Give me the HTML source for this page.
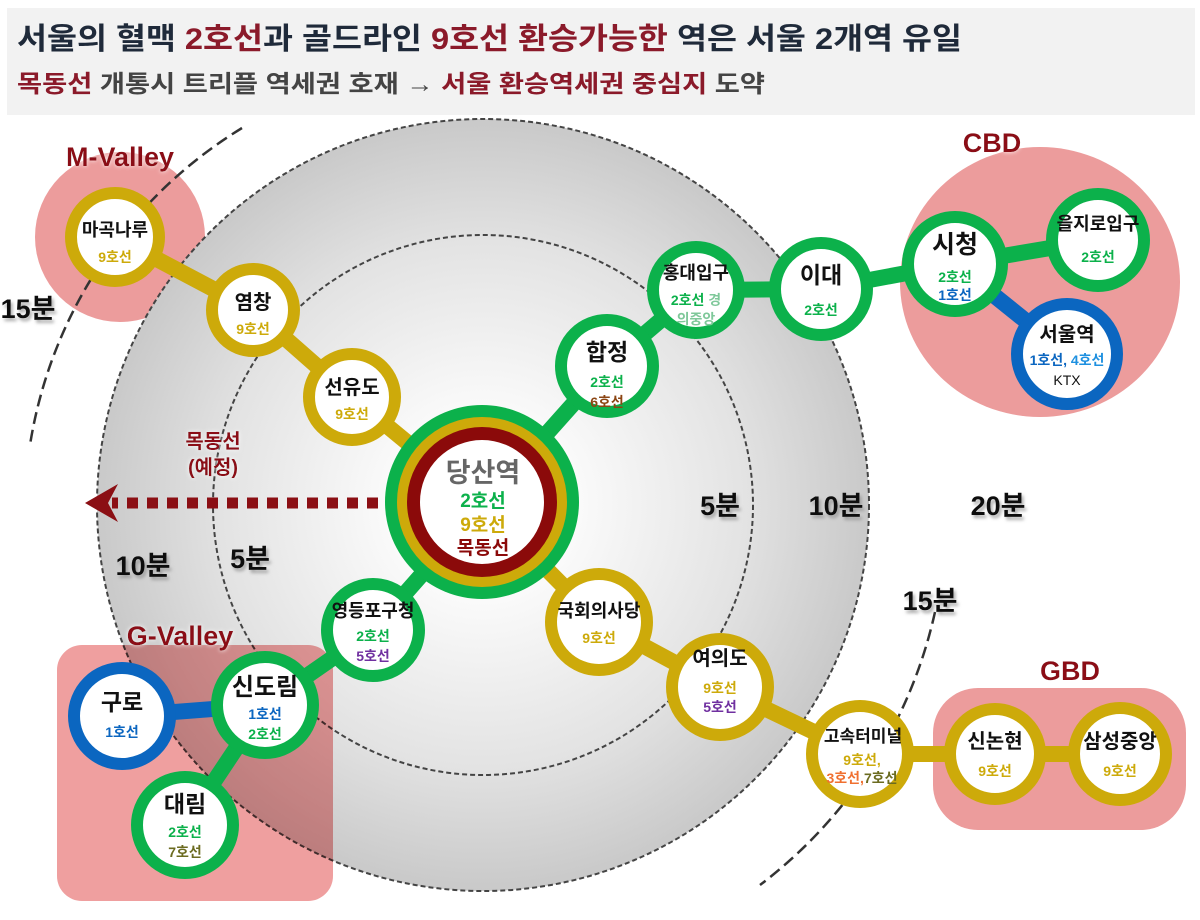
<!DOCTYPE html>
<html><head><meta charset="utf-8"><style>
html,body{margin:0;padding:0;background:#fff;}
svg{display:block;font-family:"Liberation Sans","Noto Sans CJK KR",sans-serif;}
.n{font-weight:bold;font-size:20px;fill:#111;text-anchor:middle;}
.l{font-size:14px;text-anchor:middle;font-weight:bold;}
.m{font-weight:bold;font-size:27px;fill:#111;text-anchor:middle;}
</style></head><body>
<svg width="1200" height="920" viewBox="0 0 1200 920" xmlns="http://www.w3.org/2000/svg">
<defs>
<radialGradient id="g1" cx="0.5" cy="0.5" r="0.5"><stop offset="0.65" stop-color="#e4e4e4"/><stop offset="1" stop-color="#c9c9c9"/></radialGradient>
<radialGradient id="g2" cx="0.5" cy="0.5" r="0.5"><stop offset="0.3" stop-color="#fcfcfc"/><stop offset="1" stop-color="#e2e2e2"/></radialGradient>
<filter id="sh"><feDropShadow dx="2" dy="3" stdDeviation="1.5" flood-color="#888" flood-opacity="0.7"/></filter>
<filter id="gl"><feDropShadow dx="0" dy="0" stdDeviation="2" flood-color="#fff" flood-opacity="1"/></filter>
</defs>
<rect x="7" y="8" width="1188" height="107" fill="#f2f2f2"/>
<text x="17" y="49" font-size="30" font-weight="bold" fill="#1f2a3a" textLength="945" lengthAdjust="spacingAndGlyphs">서울의 혈맥 <tspan fill="#8b1a2a">2호선</tspan>과 골드라인 <tspan fill="#8b1a2a">9호선 환승가능한</tspan> 역은 서울 2개역 유일</text>
<text x="17" y="92" font-size="24" font-weight="bold" fill="#444" textLength="748" lengthAdjust="spacingAndGlyphs"><tspan fill="#8b1a2a">목동선</tspan> 개통시 트리플 역세권 호재 → <tspan fill="#8b1a2a">서울 환승역세권 중심지</tspan> 도약</text>

<circle cx="120" cy="237" r="85" fill="#ec9c9c"/>
<ellipse cx="1040" cy="282" rx="140" ry="135" fill="#ec9c9c"/>
<rect x="933" y="688" width="253" height="142" rx="45" fill="#ec9c9c"/>

<circle cx="483" cy="505" r="386" fill="url(#g1)" stroke="#444" stroke-width="2" stroke-dasharray="5,3"/>
<circle cx="483" cy="505" r="270" fill="url(#g2)" stroke="#444" stroke-width="2" stroke-dasharray="5,3"/>
<rect x="57" y="645" width="276" height="256" rx="25" fill="#ef9f9f" style="mix-blend-mode:multiply"/>

<path d="M 242 128 A 455 455 0 0 0 30 445" fill="none" stroke="#333" stroke-width="2.5" stroke-dasharray="12,6"/>
<path d="M 935 612 A 470 470 0 0 1 760 885" fill="none" stroke="#333" stroke-width="2.5" stroke-dasharray="12,6"/>

<g stroke-width="16" fill="none">
<polyline points="115,237 253,310 352,397 483,505" stroke="#cdaa0a"/>
<polyline points="483,505 607,366 696,290 821,289 955,264 1098,240" stroke="#0cb14b"/>
<line x1="955" y1="264" x2="1067" y2="354" stroke="#0b66c0"/>
<polyline points="483,505 599,622 720,687 860,754 995,754 1120,754" stroke="#cdaa0a"/>
<polyline points="483,505 373,630 265,705 185,825" stroke="#0cb14b"/>
<line x1="122" y1="716" x2="265" y2="705" stroke="#0b66c0"/>
</g>

<line x1="378" y1="503" x2="112" y2="503" stroke="#8b0f14" stroke-width="11" stroke-dasharray="11,9"/>
<polygon points="85,503 118,484 108,503 118,522" fill="#8b0f14"/>
<text x="213" y="448" font-size="20" font-weight="bold" fill="#8b0f14" text-anchor="middle" filter="url(#gl)">목동선</text>
<text x="213" y="474" font-size="20" font-weight="bold" fill="#8b0f14" text-anchor="middle" filter="url(#gl)">(예정)</text>

<g font-size="27" font-weight="bold" fill="#8b0f14" text-anchor="middle" filter="url(#gl)">
<text x="120" y="166">M-Valley</text>
<text x="992" y="152">CBD</text>
<text x="180" y="645">G-Valley</text>
<text x="1070" y="680">GBD</text>
</g>

<g class="m" filter="url(#sh)">
<text class="m" x="28" y="318">15분</text>
<text class="m" x="143" y="575">10분</text>
<text class="m" x="250" y="568">5분</text>
<text class="m" x="720" y="515">5분</text>
<text class="m" x="836" y="515">10분</text>
<text class="m" x="998" y="515">20분</text>
<text class="m" x="930" y="610">15분</text>
</g>

<g stroke-width="12" fill="#fff">
<circle cx="115" cy="237" r="44" stroke="#cdaa0a"/>
<circle cx="253" cy="310" r="41" stroke="#cdaa0a"/>
<circle cx="352" cy="397" r="43" stroke="#cdaa0a"/>
<circle cx="607" cy="366" r="46" stroke="#0cb14b"/>
<circle cx="696" cy="290" r="43" stroke="#0cb14b"/>
<circle cx="821" cy="289" r="46" stroke="#0cb14b"/>
<circle cx="955" cy="264" r="47" stroke="#0cb14b"/>
<circle cx="1098" cy="240" r="46" stroke="#0cb14b"/>
<circle cx="1067" cy="354" r="50" stroke="#0b66c0"/>
<circle cx="373" cy="630" r="46" stroke="#0cb14b"/>
<circle cx="599" cy="622" r="48" stroke="#cdaa0a"/>
<circle cx="720" cy="687" r="48" stroke="#cdaa0a"/>
<circle cx="860" cy="754" r="48" stroke="#cdaa0a"/>
<circle cx="995" cy="754" r="45" stroke="#cdaa0a"/>
<circle cx="1120" cy="754" r="46" stroke="#cdaa0a"/>
<circle cx="265" cy="705" r="48" stroke="#0cb14b"/>
<circle cx="122" cy="716" r="48" stroke="#0b66c0"/>
<circle cx="185" cy="825" r="48" stroke="#0cb14b"/>
</g>
<circle cx="482" cy="502" r="97" fill="#0cb14b"/>
<circle cx="482" cy="502" r="85" fill="#cdaa0a"/>
<circle cx="482" cy="502" r="75" fill="#8b0a0a"/>
<circle cx="482" cy="502" r="62" fill="#fff"/>
<text x="483" y="482" font-size="27" font-weight="bold" fill="#666" text-anchor="middle" filter="url(#gl)">당산역</text>
<text class="l" x="483" y="507" style="font-size:19px" fill="#0cb14b">2호선</text>
<text class="l" x="483" y="531" style="font-size:19px" fill="#cdaa0a">9호선</text>
<text class="l" x="483" y="554" style="font-size:19px" fill="#8b0a0a">목동선</text>

<text class="n" x="115" y="236" style="font-size:18px">마곡나루</text><text class="l" x="115" y="262" fill="#cdaa0a">9호선</text>
<text class="n" x="253" y="309">염창</text><text class="l" x="253" y="334" fill="#cdaa0a">9호선</text>
<text class="n" x="352" y="394">선유도</text><text class="l" x="352" y="419" fill="#cdaa0a">9호선</text>
<text class="n" x="607" y="360" style="font-size:23px">합정</text><text class="l" x="607" y="387" fill="#0cb14b">2호선</text><text class="l" x="607" y="407" fill="#8b4513">6호선</text>
<text class="n" x="696" y="279" style="font-size:18px">홍대입구</text><text class="l" x="696" y="305"><tspan fill="#0cb14b">2호선</tspan> <tspan fill="#7fc89a">경</tspan></text><text class="l" x="696" y="324" fill="#7fc89a">의중앙</text>
<text class="n" x="821" y="283" style="font-size:23px">이대</text><text class="l" x="821" y="315" fill="#0cb14b">2호선</text>
<text class="n" x="955" y="253" style="font-size:25px">시청</text><text class="l" x="955" y="282" fill="#0cb14b">2호선</text><text class="l" x="955" y="300" fill="#0b66c0">1호선</text>
<text class="n" x="1098" y="230" style="font-size:18px">을지로입구</text><text class="l" x="1098" y="262" fill="#0cb14b">2호선</text>
<text class="n" x="1067" y="341">서울역</text><text class="l" x="1067" y="365"><tspan fill="#0b66c0">1호선, </tspan><tspan fill="#1e90e0">4호선</tspan></text><text class="l" x="1067" y="385" fill="#111" style="font-weight:normal">KTX</text>
<text class="n" x="373" y="617" style="font-size:18px">영등포구청</text><text class="l" x="373" y="641" fill="#0cb14b">2호선</text><text class="l" x="373" y="661" fill="#7030a0">5호선</text>
<text class="n" x="599" y="617" style="font-size:18px">국회의사당</text><text class="l" x="599" y="643" fill="#cdaa0a">9호선</text>
<text class="n" x="720" y="665">여의도</text><text class="l" x="720" y="693" fill="#cdaa0a">9호선</text><text class="l" x="720" y="712" fill="#7030a0">5호선</text>
<text class="n" x="863" y="742" style="font-size:17px">고속터미널</text><text class="l" x="862" y="765" fill="#cdaa0a">9호선,</text><text class="l" x="862" y="783"><tspan fill="#f07030">3호선,</tspan><tspan fill="#6b6b20">7호선</tspan></text>
<text class="n" x="995" y="748">신논현</text><text class="l" x="995" y="776" fill="#cdaa0a">9호선</text>
<text class="n" x="1120" y="748">삼성중앙</text><text class="l" x="1120" y="776" fill="#cdaa0a">9호선</text>
<text class="n" x="265" y="695" style="font-size:24px">신도림</text><text class="l" x="265" y="719" fill="#0b66c0">1호선</text><text class="l" x="265" y="739" fill="#0cb14b">2호선</text>
<text class="n" x="122" y="710" style="font-size:23px">구로</text><text class="l" x="122" y="737" fill="#0b66c0">1호선</text>
<text class="n" x="185" y="812" style="font-size:23px">대림</text><text class="l" x="185" y="837" fill="#0cb14b">2호선</text><text class="l" x="185" y="857" fill="#6b6b20">7호선</text>
</svg>
</body></html>
